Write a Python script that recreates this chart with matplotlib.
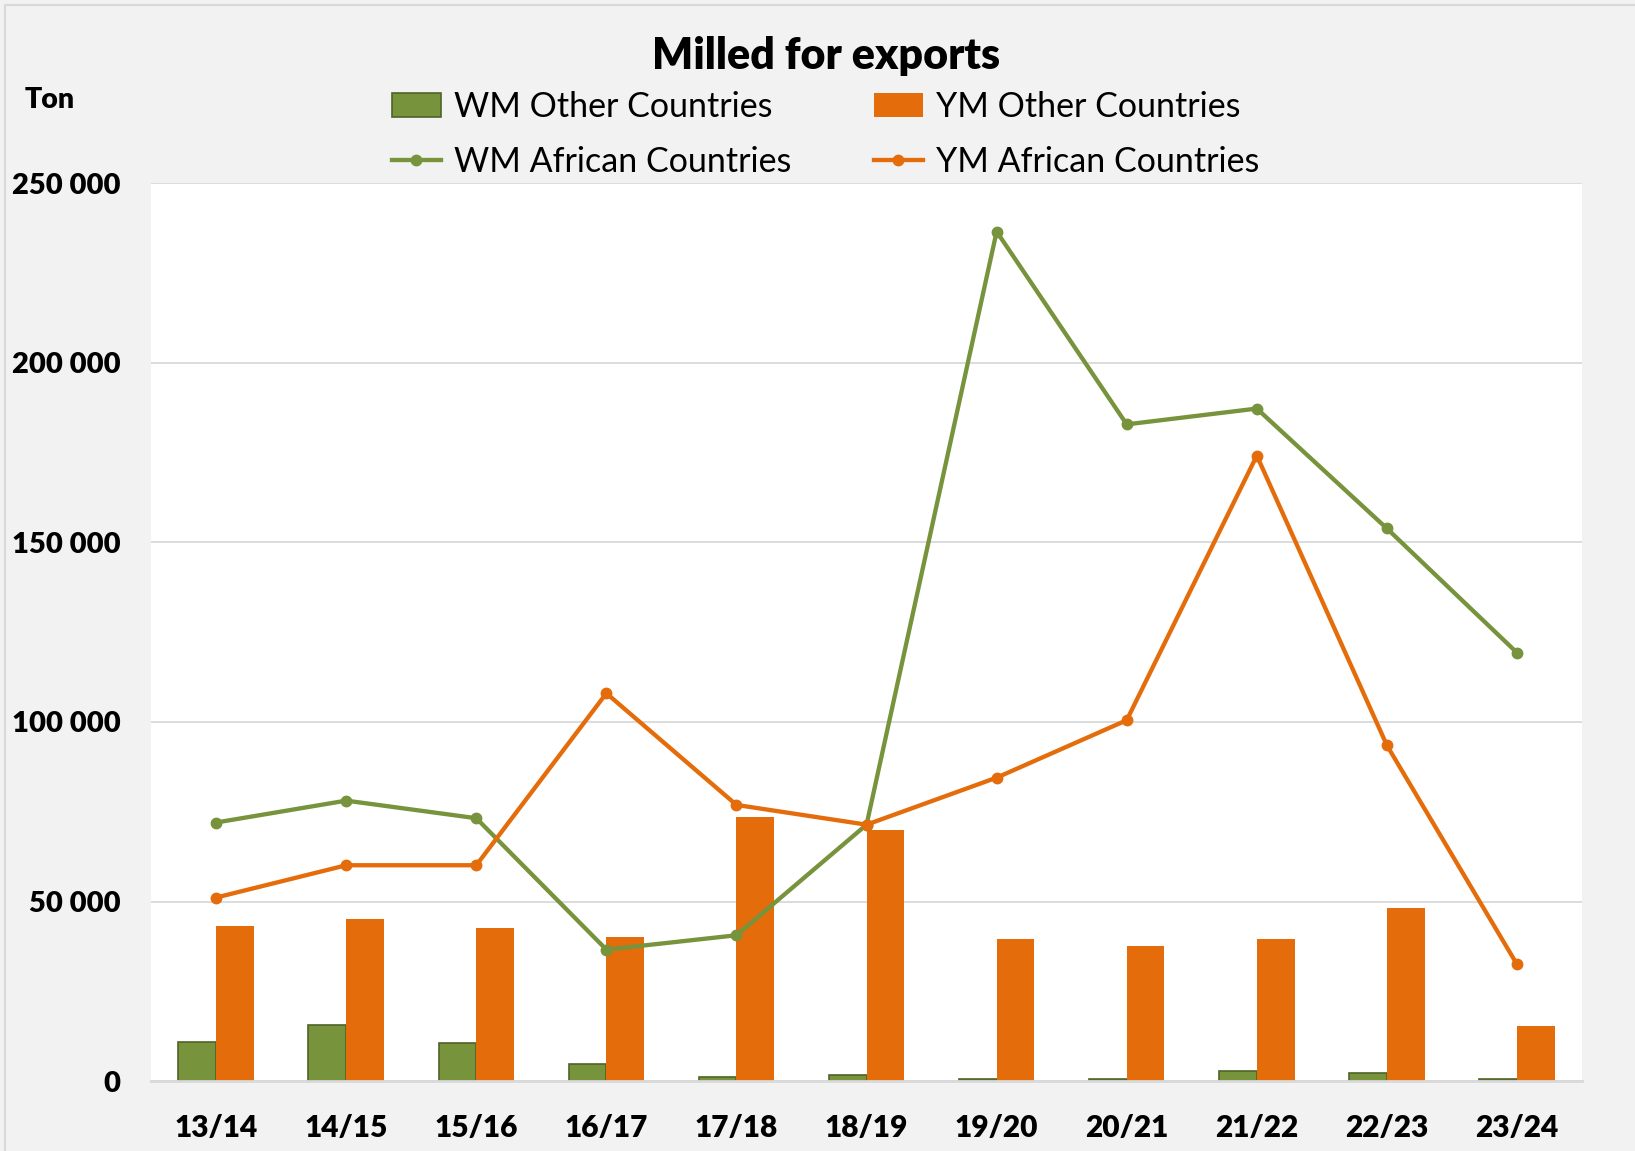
import numpy as np
import matplotlib.pyplot as plt
from matplotlib.patches import Rectangle
from matplotlib.ticker import FuncFormatter

seasons = ["13/14", "14/15", "15/16", "16/17", "17/18", "18/19",
           "19/20", "20/21", "21/22", "22/23", "23/24"]
wm_other = [11000, 15500, 10600, 4700, 1200, 1700, 600, 600, 2700, 2200, 600]
ym_other = [43300, 45000, 42700, 40100, 73500, 70000, 39500, 37500, 39500, 48200, 15200]
wm_african = [72000, 78100, 73200, 36600, 40600, 71400, 236600, 182900, 187300, 153900, 119300]
ym_african = [51100, 60100, 60100, 108000, 76900, 71400, 84500, 100500, 174200, 93500, 32500]

green = "#77933C"
green_edge = "#4F6228"
orange = "#E46C0A"
bg = "#F2F2F2"
grid = "#D9D9D9"

plt.rcParams["font.family"] = ["Lato", "DejaVu Sans"]

fig = plt.figure(figsize=(16.35, 11.51), dpi=100, facecolor=bg)
fig.patches.append(Rectangle((5 / 1635, -0.1), 1.2, 1 - 5 / 1151 + 0.1,
                             transform=fig.transFigure, fill=False,
                             edgecolor=grid, linewidth=1.5))
ax = fig.add_axes([0.0924, 0.0608, 0.8752, 0.7798])
ax.set_facecolor("white")

x = np.arange(len(seasons))
w = 0.29
b1 = ax.bar(x - w / 2, wm_other, w, color=green, edgecolor=green_edge,
            linewidth=1.2, label="WM Other Countries", zorder=2)
b2 = ax.bar(x + w / 2, ym_other, w, color=orange, label="YM Other Countries", zorder=2)
l1, = ax.plot(x, wm_african, color=green, lw=3.1, marker="o", ms=7.5,
              label="WM African Countries", zorder=3)
l2, = ax.plot(x, ym_african, color=orange, lw=3.1, marker="o", ms=7.5,
              label="YM African Countries", zorder=3)

ax.set_xlim(-0.5, len(seasons) - 0.5)
ax.set_ylim(0, 250000)
ax.set_yticks(np.arange(0, 250001, 50000))
ax.yaxis.set_major_formatter(FuncFormatter(lambda v, p: f"{int(v):,}".replace(",", " ")))
ax.set_xticks(x)
ax.set_xticklabels(seasons)
ax.grid(axis="y", color=grid, lw=1.3, zorder=0)
ax.set_axisbelow(True)
for s in ["top", "right", "left"]:
    ax.spines[s].set_visible(False)
ax.spines["bottom"].set_color(grid)
ax.spines["bottom"].set_linewidth(2)
ax.tick_params(axis="y", length=0, labelsize=21, pad=22)
ax.tick_params(axis="x", length=0, labelsize=21.5, pad=24)
for t in ax.get_xticklabels() + ax.get_yticklabels():
    t.set_fontweight("heavy")

fig.text(0.505, 0.951, "Milled for exports", ha="center", va="center",
         fontsize=31, fontweight="heavy")
fig.text(0.015, 0.913, "Ton", ha="left", va="center", fontsize=20.5, fontweight="heavy")

fig.legend(handles=[b1, l1, b2, l2], ncol=2, loc="center",
           bbox_to_anchor=(0.505, 0.883), frameon=False, fontsize=24.5,
           handlelength=1.45, handletextpad=0.4, columnspacing=2.4,
           labelspacing=0.68)

fig.savefig("out.png", dpi=100, facecolor=bg)
